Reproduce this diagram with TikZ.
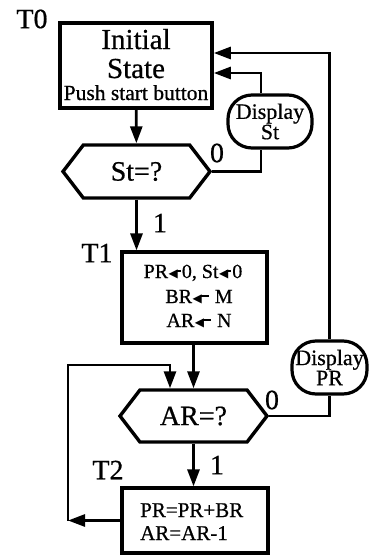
\documentclass[tikz,border=0pt]{standalone}
\usepackage{fontspec}
\setmainfont[FakeBold=0.6,AutoFakeBold=0.6]{Liberation Serif}
\newfontfamily\djv{DejaVu Sans}
\usetikzlibrary{arrows.meta,shapes.symbols}
\newcommand\myfs[1]{\fontsize{#1}{#1}\selectfont}
\newcommand\larr[1]{\kern0.5pt\raisebox{0.05em}{\djv\fontsize{12}{12}\selectfont ◀}\kern-2pt\rule[0.3em]{#1}{0.11em}\kern1pt}
\begin{document}
\begin{tikzpicture}[x=1pt,y=-1pt,
  box/.style={draw,line width=3.6pt,inner sep=0pt},
  hexa/.style={draw,line width=3.4pt,shape=signal,signal to=west and east,signal pointer angle=105,inner sep=0pt,font=\bfseries\myfs{28}},
  disp/.style={draw,line width=3.2pt,rounded corners=24pt,inner sep=0pt,align=center,font=\bfseries\fontsize{22}{19}\selectfont},
  con/.style={line width=2.8pt},
  arr/.style={con,-{Triangle[length=17pt,width=12pt]}},
  lab/.style={font=\bfseries\myfs{28},inner sep=0pt},
  txt/.style={inner sep=0pt,anchor=base}
]
\useasboundingbox (0,0) rectangle (369,555);
% boxes
\node[box,minimum width=152pt,minimum height=85pt] (init) at (136,65.5) {};
\node[txt,font=\bfseries\myfs{29}] (initA) at (136,49) {Initial};
\node[txt,font=\bfseries\myfs{29}] (initB) at (136,78) {State};
\node[txt,font=\bfseries\myfs{21.5}] (initC) at (136,100) {Push start button};
\node[hexa,minimum width=147pt,minimum height=53pt] (sthex) at (136.5,171.5) {St=?};
\node[disp,minimum width=84pt,minimum height=53pt] (dispst) at (270,121.5) {Display\\St};
\node[box,line width=3.2pt,minimum width=145pt,minimum height=91pt] (t1) at (194.5,297.5) {};
\node[txt,font=\bfseries\myfs{20}] (t1a) at (193,278) {PR\larr{5pt}0, St\larr{5pt}0};
\node[txt,font=\bfseries\myfs{20}] (t1b) at (199,303) {BR\larr{9pt}\ M};
\node[txt,font=\bfseries\myfs{20}] (t1c) at (199,327) {AR\larr{9pt}\ N};
\node[hexa,minimum width=147pt,minimum height=52pt] (arhex) at (193.5,416) {AR=?};
\node[disp,minimum width=75pt,minimum height=53pt] (disppr) at (329.5,367.5) {Display\\PR};
\node[box,line width=3.2pt,minimum width=146pt,minimum height=65pt] (t2) at (195,520.5) {};
\node[txt,anchor=base west,font=\bfseries\myfs{21}] (t2a) at (140,517) {PR=PR+BR};
\node[txt,anchor=base west,font=\bfseries\myfs{21}] (t2b) at (140,540) {AR=AR-1};
% labels
\node[lab] (T0) at (32,19) {T0};
\node[lab] (T1) at (97,253) {T1};
\node[lab] (T2) at (108,470) {T2};
\node[lab] (z1) at (217,153) {0};
\node[lab] (o1) at (160,223) {1};
\node[lab] (z2) at (272,400) {0};
\node[lab] (o2) at (217,465) {1};
% connectors
\coordinate (lc) at (68,520.5);
\coordinate (lt) at (68,365);
\draw[arr] (init) -- (sthex);
\draw[con] (sthex.east) -| ([xshift=-9pt]dispst.south);
\draw[arr] ([xshift=-9pt]dispst.north) |- (init.east |- 0,73);
\draw[arr] (disppr.north) |- (init.east |- 0,53);
\draw[arr] (sthex.south) -- (sthex.south |- t1.north);
\draw[arr] (t1.south -| arhex.north) -- (arhex.north);
\draw[con] (arhex.east) -| (disppr.south);
\draw[arr] (arhex.south) -- (arhex.south |- t2.north);
\draw[arr] (t2.west) -- (lc);
\draw[arr] (lc) -- (lt) -- (lt -| 170,0) -- (170,0 |- arhex.north);
\end{tikzpicture}
\end{document}
